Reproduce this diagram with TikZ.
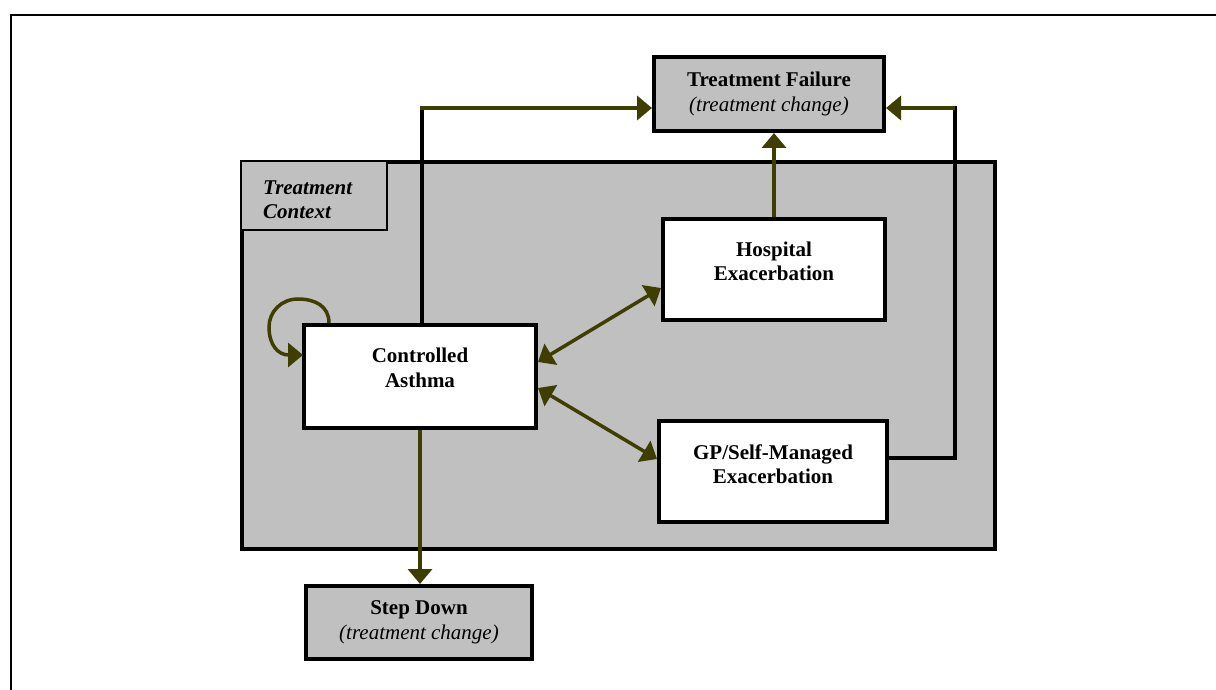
\documentclass[tikz,border=0pt]{standalone}
\usepackage{fontspec}
\setmainfont{Liberation Serif}
\usetikzlibrary{arrows.meta}
\definecolor{boxgray}{RGB}{192,192,192}
\definecolor{olivearr}{RGB}{62,62,0}
\tikzset{
  box/.style={draw=black, line width=4pt, fill=white, inner sep=0pt},
  graybox/.style={draw=black, line width=4pt, fill=boxgray, inner sep=0pt, align=center, font=\fontsize{21}{24.5}\selectfont},
  txt/.style={align=center, inner sep=0pt, font=\fontsize{21}{24.5}\selectfont\bfseries},
  blk/.style={draw=black, line width=3.5pt},
  oli/.style={draw=olivearr, line width=3.5pt},
  tip/.style={-{Triangle[length=15pt,width=24pt]}},
  dtip/.style={{Triangle[length=15pt,width=24pt]}-{Triangle[length=15pt,width=24pt]}}
}
\begin{document}
\begin{tikzpicture}[x=1pt,y=-1pt]
\useasboundingbox (0,0) rectangle (1216,690);
\fill[white] (0,0) rectangle (1216,690);
% outer frame
\draw[line width=2pt] (10.5,690) -- (10.5,15.5) -- (1216,15.5);
% treatment context
\node[draw=black, line width=4pt, fill=boxgray, minimum width=753pt, minimum height=387pt, inner sep=0pt] (ctx) at (618.5,355.5) {};
\node[draw=black, line width=2pt, fill=boxgray, minimum width=146pt, minimum height=69pt, inner sep=0pt, anchor=north west] (ctxl) at (ctx.north west) {};
\node[anchor=west, align=left, inner sep=0pt, font=\fontsize{21}{24}\selectfont\bfseries\itshape] (ctxt) at (263,200) {Treatment\\Context};
% boxes
\node[graybox, minimum width=230pt, minimum height=74pt] (tf) at (769,94) {\textbf{Treatment Failure}\\\textit{(treatment change)}};
\node[box, minimum width=222pt, minimum height=101pt] (hosp) at (774,269.5) {};
\node[txt] (hospt) at ([yshift=8pt]hosp.center) {Hospital\\Exacerbation};
\node[box, minimum width=228pt, minimum height=101pt] (gp) at (773,471.5) {};
\node[txt] (gpt) at ([yshift=7.5pt]gp.center) {GP/Self-Managed\\Exacerbation};
\node[box, minimum width=232pt, minimum height=103pt] (ca) at (420,376.5) {};
\node[txt] (cat) at ([yshift=8.5pt]ca.center) {Controlled\\Asthma};
\node[graybox, minimum width=226pt, minimum height=73pt] (sd) at (419,622.5) {\textbf{Step Down}\\\textit{(treatment change)}};
% connectors
\coordinate (c1) at ([xshift=2pt]ca.north |- 0,108);
\draw[blk] ([xshift=2pt]ca.north) -- (c1);
\draw[oli, tip] ([xshift=-1.75pt]c1) -- (c1 -| tf.west);
\coordinate (c2) at (955,458);
\coordinate (c3) at (955,108);
\draw[blk] (gp.east |- c2) -- (c2) -- ([yshift=1.75pt]c3);
\draw[oli, tip] (c3) -- (c3 -| tf.east);
\draw[oli, tip] (hosp.north) -- (hosp.north |- tf.south);
\draw[oli, tip] (ca.south) -- (ca.south |- sd.north);
\draw[oli, dtip] ([yshift=14.5pt]ca.east) -- ([yshift=-18.5pt]hosp.west);
\draw[oli, dtip] ([yshift=-11.5pt]ca.east) -- ([yshift=12.5pt]gp.west);
% self loop
\coordinate (ls) at (329,323);
\coordinate (le) at (303,355);
\draw[oli, tip] (ls) .. controls (329,306) and (315,299) .. (298,299)
  .. controls (281,299) and (269,312) .. (269,327)
  .. controls (269,345) and (278,355) .. (le);
\end{tikzpicture}
\end{document}
